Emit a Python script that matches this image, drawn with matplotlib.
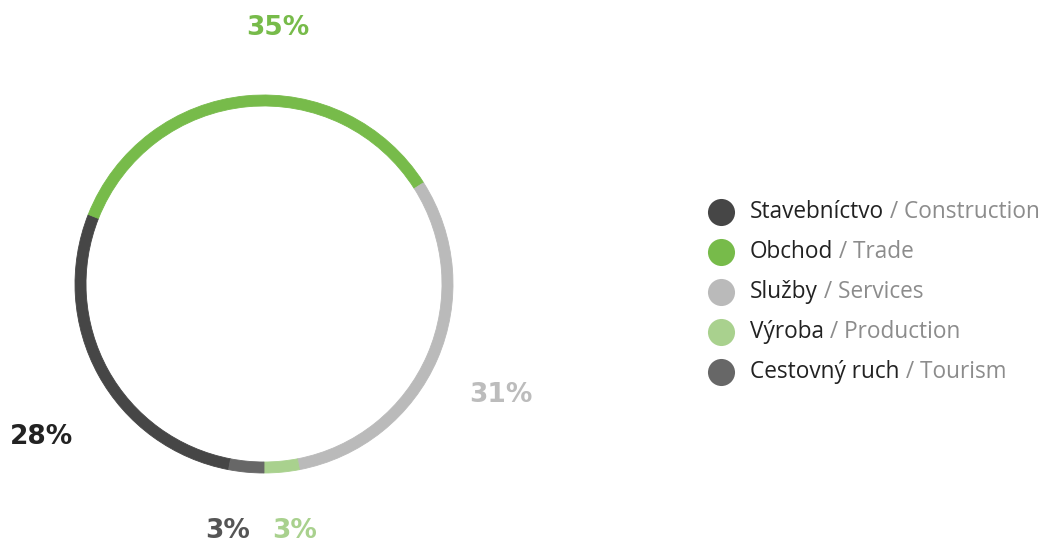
import matplotlib
matplotlib.use("Agg")
import matplotlib.pyplot as plt

# data (legend order = clockwise order on the ring)
labels_sk = ["Stavebníctvo", "Obchod", "Služby", "Výroba", "Cestovný ruch"]
labels_en = ["Construction", "Trade", "Services", "Production", "Tourism"]
shares = [28, 35, 31, 3, 3]
colors = ["#464646", "#77bb4a", "#bababa", "#a9d18e", "#676767"]
pct_colors = ["#222222", "#77bb4a", "#bcbcbc", "#a9d18e", "#555555"]

# where each percentage label sits (pixel coords, y measured from top)
pct_pos = [(41, 437), (278, 28), (501, 395), (295, 531), (228, 531)]

W, H = 1048, 544
fig = plt.figure(figsize=(W / 100, H / 100), dpi=100)
ax = fig.add_axes([0, 0, 1, 1])

cx, cy, r = 264, H - 284, 189
wedges, _ = ax.pie(shares, colors=colors, startangle=-100.8, counterclock=False,
                   radius=r, center=(cx, cy), wedgeprops=dict(width=11))
for w in wedges:
    w.set_edgecolor(w.get_facecolor())
    w.set_linewidth(0.6)

for s, c, (px, py) in zip(shares, pct_colors, pct_pos):
    ax.text(px, H - py, f"{s}%", color=c, fontsize=19, fontweight="heavy",
            family="DejaVu Sans", ha="center", va="center")

# legend
y0, dy = 212, 40
for i, (sk, en, c) in enumerate(zip(labels_sk, labels_en, colors)):
    y = H - (y0 + i * dy)
    ax.scatter([721], [y], s=380, color=c, linewidths=0)
    t = ax.text(750, y, sk, color="#222222", fontsize=16.3, family="Open Sans",
                va="center", ha="left")
    ax.annotate(" / " + en, xy=(1, 0), xycoords=t, color="#8c8c8c",
                fontsize=16.3, family="Open Sans", va="bottom", ha="left")

ax.set_xlim(0, W)
ax.set_ylim(0, H)
ax.set_aspect("auto")
ax.axis("off")

fig.savefig("out.png", dpi=100, facecolor="white")
